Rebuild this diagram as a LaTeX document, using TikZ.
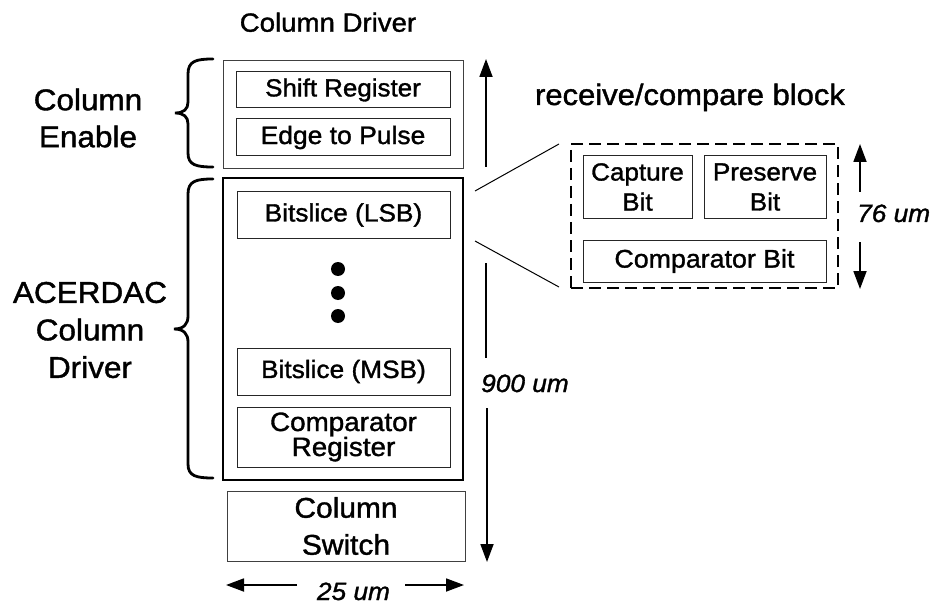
\documentclass[tikz,border=0pt]{standalone}
\usepackage{fontspec}
\setmainfont[FakeStretch=1.05, FakeBold=1.3]{Liberation Sans}
\usetikzlibrary{arrows.meta}
\begin{document}
\begin{tikzpicture}[x=1pt,y=-1pt,
  thinbox/.style={draw=black!75, line width=0.9pt, inner sep=0pt},
  innerbox/.style={draw=black!85, line width=1pt, inner sep=0pt, align=center},
  mainbox/.style={draw=black, line width=2pt, inner sep=0pt},
  dashbox/.style={draw=black, line width=2pt, dash pattern=on 12pt off 6pt, inner sep=0pt},
  brc/.style={draw=black, line width=2.8pt, line cap=round},
  dimarrow/.style={line width=1.8pt, -{Triangle[length=18pt,width=13pt]}},
  dimline/.style={line width=1.8pt},
  zoomline/.style={line width=1pt},
  dotnode/.style={circle, fill=black, inner sep=0pt, minimum size=14pt},
  lbl/.style={inner sep=0pt, align=center},
  dimlbl/.style={inner sep=0pt, font=\fontsize{25}{28}\selectfont\itshape}
]
\useasboundingbox (0,0) rectangle (935,607);

% title
\node[lbl, anchor=base, font=\fontsize{26.3}{28}\selectfont] (title) at (328,31.7) {Column Driver};

% column enable block
\node[thinbox, minimum width=240pt, minimum height=108pt] (enable) at (343,114) {};
\node[innerbox, minimum width=214pt, minimum height=36pt, font=\fontsize{24.7}{28}\selectfont] (shift) at (343,90) {Shift Register};
\node[innerbox, minimum width=214pt, minimum height=37pt, font=\fontsize{25.2}{28}\selectfont] (edge) at (343,137.5) {Edge to Pulse};

% ACERDAC block
\node[mainbox, minimum width=240pt, minimum height=302pt] (acer) at (343,329) {};
\node[innerbox, minimum width=213pt, minimum height=46pt, font=\fontsize{25}{28}\selectfont] (lsb) at (343.5,215) {Bitslice (LSB)};
\node[dotnode] (d1) at (338,269) {};
\node[dotnode] (d2) at (338,293) {};
\node[dotnode] (d3) at (338,316) {};
\node[innerbox, minimum width=213pt, minimum height=47pt, font=\fontsize{25}{28}\selectfont] (msb) at (343.5,371.5) {Bitslice (MSB)};
\node[innerbox, minimum width=213pt, minimum height=60pt, font=\fontsize{26.5}{25}\selectfont] (compreg) at (343.5,437) {Comparator\\Register};

% column switch
\node[thinbox, align=center, minimum width=238pt, minimum height=70pt, font=\fontsize{28.5}{37}\selectfont] (switch) at (346,526) {Column\\Switch};

% left labels and braces
\node[lbl, font=\fontsize{30}{37}\selectfont] (enlbl) at (88,118) {Column\\Enable};
\node[lbl, font=\fontsize{30}{37.5}\selectfont] (acerlbl) at (90,330) {ACERDAC\\Column\\Driver};
\draw[brc] (213,59) .. controls (196,59) and (188,61) .. (188,74) -- (188,102) .. controls (188,109) and (184,113) .. (175,113) .. controls (184,113) and (188,117) .. (188,124) -- (188,153) .. controls (188,165) and (196,167) .. (213,167);
\draw[brc] (213,179) .. controls (196,179) and (188,181) .. (188,194) -- (188,316) .. controls (188,324) and (184,329) .. (174,329) .. controls (184,329) and (188,334) .. (188,342) -- (188,464) .. controls (188,476) and (196,478) .. (213,478);

% 900 um dimension
\coordinate (v1a) at (486,167);
\coordinate (v1b) at (486,59);
\coordinate (v2a) at (486,263);
\coordinate (v2b) at (486,358);
\coordinate (v3a) at (487,408);
\coordinate (v3b) at (487,562);
\draw[dimarrow] (v1a) -- (v1b);
\draw[dimline] (v2a) -- (v2b);
\draw[dimarrow] (v3a) -- (v3b);
\node[dimlbl, anchor=base] (d900) at (525,392) {900 um};

% 25 um dimension
\node[dimlbl, anchor=base] (d25) at (353.5,600) {25 um};
\coordinate (h1a) at (297,585);
\coordinate (h1b) at (226,585);
\coordinate (h2a) at (405,585);
\coordinate (h2b) at (464,585);
\draw[dimarrow] (h1a) -- (h1b);
\draw[dimarrow] (h2a) -- (h2b);

% receive/compare block
\node[lbl, anchor=base, font=\fontsize{29.5}{32}\selectfont] (rclbl) at (690,105) {receive/compare block};
\node[dashbox, minimum width=267pt, minimum height=144pt] (rc) at (704.5,216) {};
\node[innerbox, minimum width=109pt, minimum height=62pt, font=\fontsize{24.8}{30}\selectfont] (capture) at (637.5,187) {Capture\\Bit};
\node[innerbox, minimum width=122pt, minimum height=62pt, font=\fontsize{24.8}{30}\selectfont] (preserve) at (765,187) {Preserve\\Bit};
\node[innerbox, minimum width=243pt, minimum height=42pt, font=\fontsize{25.5}{30}\selectfont] (compbit) at (704.5,261) {Comparator Bit};

% zoom lines
\coordinate (z1a) at (475,191);
\coordinate (z1b) at (559,144);
\coordinate (z2a) at (475,241);
\coordinate (z2b) at (559,287);
\draw[zoomline] (z1a) -- (z1b);
\draw[zoomline] (z2a) -- (z2b);

% 76 um dimension
\coordinate (u1a) at (860,192);
\coordinate (u1b) at (860,144);
\coordinate (u2a) at (860,242);
\coordinate (u2b) at (860,289);
\draw[dimarrow] (u1a) -- (u1b);
\draw[dimarrow] (u2a) -- (u2b);
\node[dimlbl, anchor=base west, font=\fontsize{25}{28}\selectfont\itshape] (d76) at (857,222) {76 um};
\end{tikzpicture}
\end{document}
